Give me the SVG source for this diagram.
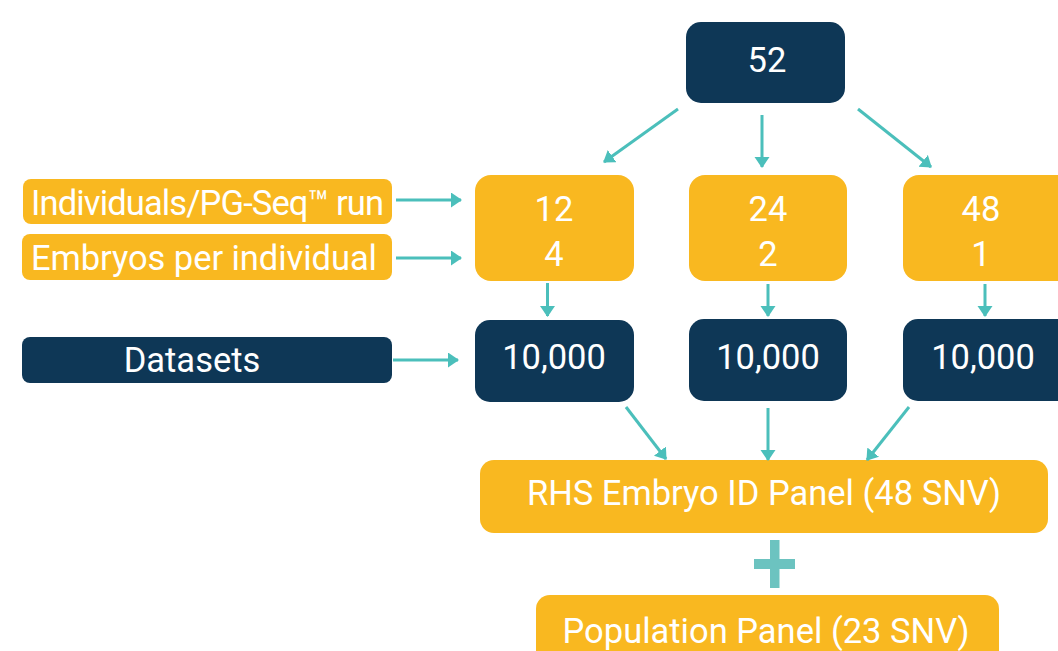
<svg xmlns="http://www.w3.org/2000/svg" width="1058" height="651" viewBox="0 0 1058 651">
<defs>
<style>
.dark{fill:#0E3756}
.yel{fill:#F9B820}
.t{font-family:Roboto,"Liberation Sans",sans-serif;font-size:34.5px;fill:#fff}
.c{text-anchor:middle}
.con line{stroke:#4BBFBB;stroke-width:3;fill:none}
</style>
<marker id="ah" markerWidth="12" markerHeight="16" refX="10" refY="7.5" orient="auto" markerUnits="userSpaceOnUse">
<path d="M0,0 L11,7.5 L0,15 Z" fill="#4BBFBB"/>
</marker>
</defs>
<rect width="1058" height="651" fill="#fff"/>
<g id="n52"><rect class="dark" x="686" y="22" width="159" height="81" rx="15"/><text class="t c" x="767" y="72">52</text></g>
<g id="lab1"><rect class="yel" x="23" y="179" width="369" height="45" rx="8"/><text class="t" x="31" y="215" textLength="353" lengthAdjust="spacing">Individuals/PG-Seq™ run</text></g>
<g id="lab2"><rect class="yel" x="22" y="234" width="370" height="46" rx="8"/><text class="t" x="31" y="270" textLength="346" lengthAdjust="spacing">Embryos per individual</text></g>
<g id="lab3"><rect class="dark" x="22" y="337" width="370" height="46" rx="8"/><text class="t c" x="192" y="372">Datasets</text></g>
<g id="y1"><rect class="yel" x="475" y="175" width="159" height="106" rx="16"/><text class="t c" x="554" y="221">12</text><text class="t c" x="554" y="266">4</text></g>
<g id="y2"><rect class="yel" x="689" y="175" width="158" height="106" rx="16"/><text class="t c" x="768" y="221">24</text><text class="t c" x="768" y="266">2</text></g>
<g id="y3"><rect class="yel" x="903" y="175" width="170" height="106" rx="16"/><text class="t c" x="981" y="221">48</text><text class="t c" x="981" y="266">1</text></g>
<g id="d1"><rect class="dark" x="475" y="320" width="159" height="82" rx="15"/><text class="t c" x="554" y="369">10,000</text></g>
<g id="d2"><rect class="dark" x="689" y="319" width="158" height="82" rx="15"/><text class="t c" x="768" y="369">10,000</text></g>
<g id="d3"><rect class="dark" x="903" y="319" width="170" height="82" rx="15"/><text class="t c" x="983" y="369">10,000</text></g>
<g id="rhs"><rect class="yel" x="480" y="460" width="568" height="73" rx="14"/><text class="t c" x="764" y="505">RHS Embryo ID Panel (48 SNV)</text></g>
<g id="plus"><rect x="770" y="540" width="9.5" height="48" fill="#6CC3C0"/><rect x="754" y="559" width="41" height="10" fill="#6CC3C0"/></g>
<g id="pop"><rect class="yel" x="536" y="595" width="463" height="80" rx="14"/><text class="t c" x="766" y="643">Population Panel (23 SNV)</text></g>
<g class="con">
<line x1="678" y1="109" x2="604" y2="162" marker-end="url(#ah)"/>
<line x1="762" y1="115" x2="762" y2="167" marker-end="url(#ah)"/>
<line x1="858" y1="109" x2="931" y2="167" marker-end="url(#ah)"/>
<line x1="396" y1="200" x2="461" y2="200" marker-end="url(#ah)"/>
<line x1="396" y1="258" x2="461" y2="258" marker-end="url(#ah)"/>
<line x1="393" y1="360" x2="458" y2="360" marker-end="url(#ah)"/>
<line x1="547.5" y1="283" x2="547.5" y2="316" marker-end="url(#ah)"/>
<line x1="768" y1="284" x2="768" y2="316" marker-end="url(#ah)"/>
<line x1="985" y1="284" x2="985" y2="316" marker-end="url(#ah)"/>
<line x1="626" y1="407" x2="666" y2="459" marker-end="url(#ah)"/>
<line x1="768" y1="408" x2="768" y2="460" marker-end="url(#ah)"/>
<line x1="909" y1="407" x2="867" y2="460" marker-end="url(#ah)"/>
</g>
</svg>
